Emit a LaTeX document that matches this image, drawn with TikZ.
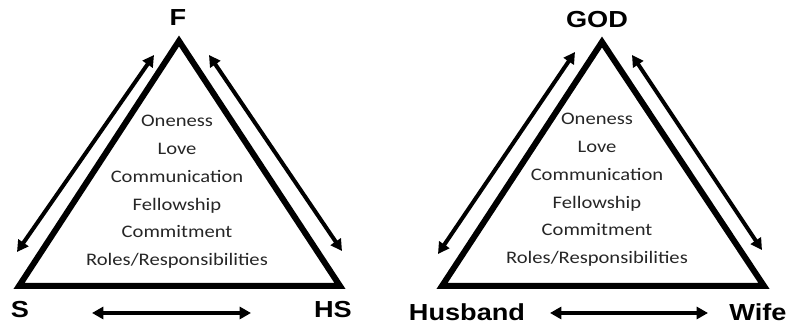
\documentclass[tikz,border=0pt]{standalone}
\usepackage{fontspec}
\setmainfont{Carlito}
\newfontfamily\cornerfont{Liberation Sans}
\usetikzlibrary{arrows.meta}

\begin{document}
\begin{tikzpicture}[x=0.75pt,y=-0.75pt,
        corner/.style={font=\cornerfont\fontsize{17.4}{19}\selectfont\bfseries,
            xscale=1.17,transform shape},
        link/.style={line width=3pt,
            {Triangle[length=8.5pt,width=9pt]}-{Triangle[length=8.5pt,width=9pt]}},
        side/.style={line width=4.5pt,line join=miter},
        values/.style={align=center,text=black!85,xscale=1.17,transform shape,
            font=\fontsize{13.2}{20.8}\selectfont}]
            \useasboundingbox (0,0) rectangle (794,327);

            % left triangle
            \coordinate (Ftop) at (179,41);
            \coordinate (Sbot) at (19,286);
            \coordinate (HSbot) at (340,286);
            \draw[side] (Ftop) -- (Sbot) -- (HSbot) -- cycle;

            \node[corner] (F) at (178,18) {F};
            \node[corner] (S) at (20,310) {S};
            \node[corner] (HS) at (333,310) {HS};

            \coordinate (l1) at (17,252);
            \coordinate (l2) at (154,55);
            \coordinate (l3) at (209,55);
            \coordinate (l4) at (342,251);
            \coordinate (l5) at (92,313);
            \coordinate (l6) at (251,313);
            \draw[link] (l1) -- (l2);
            \draw[link] (l3) -- (l4);
            \draw[link] (l5) -- (l6);

            \node[values] (lvalues) at (177,192) {Oneness\\Love\\Communication\\Fellowship\\Commitment\\Roles/Responsibilities};

            % right triangle
            \coordinate (GODtop) at (602,42);
            \coordinate (Hbot) at (442,286);
            \coordinate (Wbot) at (764,286);
            \draw[side] (GODtop) -- (Hbot) -- (Wbot) -- cycle;

            \node[corner] (GOD) at (597,20) {GOD};
            \node[corner] (husband) at (467,312) {Husband};
            \node[corner] (wife) at (758,312) {Wife};

            \coordinate (r1) at (438,254);
            \coordinate (r2) at (575,52);
            \coordinate (r3) at (632,55);
            \coordinate (r4) at (762,250);
            \coordinate (r5) at (550,313);
            \coordinate (r6) at (708,313);
            \draw[link] (r1) -- (r2);
            \draw[link] (r3) -- (r4);
            \draw[link] (r5) -- (r6);

            \node[values] (rvalues) at (597,190) {Oneness\\Love\\Communication\\Fellowship\\Commitment\\Roles/Responsibilities};
        \end{tikzpicture}
\end{document}
